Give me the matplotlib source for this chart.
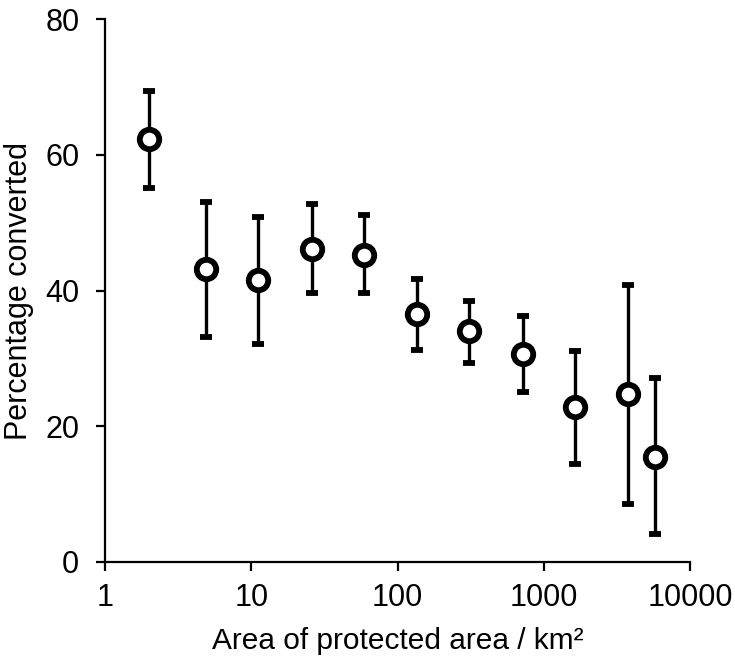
import matplotlib
matplotlib.use("Agg")
import matplotlib.pyplot as plt
from matplotlib.ticker import FixedLocator, FixedFormatter, NullLocator

plt.rcParams['font.family'] = ['Liberation Sans', 'DejaVu Sans']

# Data
area_km2 = [2.0, 4.9, 11.2, 25.9, 58.9, 136, 309, 717, 1630, 3760, 5800]
pct_converted = [62.3, 43.2, 41.5, 46.2, 45.3, 36.5, 34.0, 30.6, 22.8, 24.7, 15.5]
err_low = [7.2, 10.1, 9.3, 6.6, 5.6, 5.2, 4.7, 5.6, 8.3, 16.2, 11.4]
err_high = [7.2, 9.9, 9.4, 6.5, 5.8, 5.2, 4.5, 5.6, 8.3, 16.2, 11.6]

x_ticks = [1, 10, 100, 1000, 10000]
x_tick_labels = ["1", "10", "100", "1000", "10000"]
y_ticks = [0, 20, 40, 60, 80]

fig = plt.figure(figsize=(7.35, 6.66), dpi=100)
ax = fig.add_axes([0.1429, 0.1562, 0.7959, 0.8148])

ax.errorbar(area_km2, pct_converted, yerr=[err_low, err_high],
            fmt='o', color='black', ecolor='black', elinewidth=2.4,
            capsize=4.5, capthick=2.4, markersize=14, markeredgewidth=4.2,
            markerfacecolor='white', markeredgecolor='black', zorder=3)

ax.set_xscale('log')
ax.set_xlim(1, 10000)
ax.set_ylim(0, 80)
ax.xaxis.set_major_locator(FixedLocator(x_ticks))
ax.xaxis.set_major_formatter(FixedFormatter(x_tick_labels))
ax.xaxis.set_minor_locator(NullLocator())
ax.set_yticks(y_ticks)

for s in ['top', 'right']:
    ax.spines[s].set_visible(False)
for s in ['left', 'bottom']:
    ax.spines[s].set_linewidth(1.6)
ax.tick_params(axis='both', direction='out', length=6.5, width=1.6,
               labelsize=22)
ax.tick_params(axis='x', pad=9)
ax.tick_params(axis='y', pad=12)

ax.set_xlabel("Area of protected area / km²", fontsize=21.5, labelpad=10)
ax.set_ylabel("Percentage converted", fontsize=22, labelpad=8)

fig.savefig("out.png", dpi=100)
